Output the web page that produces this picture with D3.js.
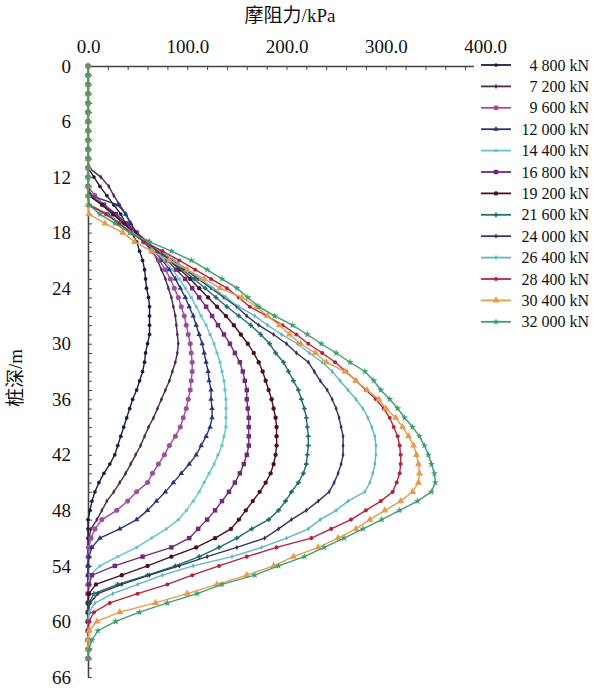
<!DOCTYPE html>
<html>
<head>
<meta charset="utf-8">
<script src="https://cdn.jsdelivr.net/npm/d3@7"></script>
<style>
  body { margin: 0; background: #fff; }
</style>
</head>
<body>
<div id="chart_friction"></div>
<script>
// depth of each measuring point, m
const depths = [0,1,2,3,4,5,6,7,8,9,10,11,12,13,14,15,16,17,18,19,20,21,22,23,24,25,26,27,28,29,30,31,32,
  33,34,35,36,37,38,39,40,41,42,43,44,45,46,47,48,49,50,51,52,53,54,55,56,57,58,59,60,61,62,63,64];

// side friction, kPa, one array per load step
const s4800  = [0,0,0,0,0,0,0,0,0,0,0,0,6,12,19,26,33,38,44,49,52,55,57,58,59,61,62,62,62,62,60,58,57,55,52,49,45,42,39,36,33,30,27,22,16,11,7,4,2,0,0,0,0,0,0,0,0,0,0,0,0,0,0,0,0];
const s7200  = [0,0,0,0,0,0,0,0,0,0,0,1,13,21,26,32,38,43,49,57,65,70,74,78,81,84,86,88,89,90,91,90,88,85,82,78,74,70,66,61,57,53,48,43,38,32,26,19,14,9,3,1,0,0,0,0,0,0,0,0,0,0,0,0,0];
const s9600  = [0,0,0,0,0,0,0,0,0,0,0,0,0,0,7,16,26,36,46,56,64,72,78,83,87,91,94,97,99,101,103,104,105,105,104,103,101,99,96,93,88,82,77,71,65,60,49,40,29,14,7,3,1,0,0,0,0,0,0,0,0,0,0,0,0];
const s12000 = [0,0,0,0,0,0,0,0,0,0,0,0,0,0,3,30,38,43,48,58,67,75,82,88,93,98,102,106,109,112,115,117,119,121,122,124,124,125,125,123,119,114,109,102,94,86,78,69,60,49,32,12,4,1,0,0,0,0,0,0,0,0,0,0,0];
const s14400 = [0,0,0,0,0,0,0,0,0,0,0,0,0,0,2,17,29,39,48,58,68,77,85,92,98,104,109,114,119,123,127,130,133,135,137,138,139,139,139,139,137,135,131,127,122,117,112,106,99,91,79,64,49,30,12,2,0,0,0,0,0,0,0,0,0];
const s16800 = [0,0,0,0,0,0,0,0,0,0,0,0,0,0,2,16,28,39,49,60,70,80,89,98,105,112,119,125,131,137,143,148,153,156,158,160,160,161,162,162,162,162,160,157,153,148,142,135,128,120,111,102,84,55,27,4,1,0,0,0,0,0,0,0,0];
const s19200 = [0,0,0,0,0,0,0,0,0,0,0,0,0,0,1,14,25,36,47,59,71,82,93,103,112,121,130,139,147,154,161,167,172,176,179,182,185,187,189,190,190,190,189,187,184,179,173,166,159,152,144,128,109,84,60,34,8,1,0,0,0,0,0,0,0];
const s21600 = [0,0,0,0,0,0,0,0,0,0,0,0,0,0,0,1,20,32,44,57,70,83,95,107,118,129,140,152,164,174,183,189,197,202,207,212,215,218,220,221,222,222,221,220,217,212,205,199,192,182,165,150,132,112,88,60,30,6,1,0,0,0,0,0,0];
const s24000 = [0,0,0,0,0,0,0,0,0,0,0,0,0,0,0,1,19,32,44,58,72,85,98,111,124,137,150,160,172,187,200,210,222,228,234,241,246,250,253,255,257,257,257,255,252,248,243,232,220,205,192,178,150,120,92,62,34,10,2,0,0,0,0,0,0];
const s26400 = [0,0,0,0,0,0,0,0,0,0,0,0,0,0,0,1,19,32,45,59,73,87,100,113,126,139,152,168,181,195,211,223,236,246,254,262,270,277,282,286,289,290,290,289,287,284,279,262,250,234,222,200,175,145,106,75,50,25,7,1,0,0,0,0,0];
const s28400 = [0,0,0,0,0,0,0,0,0,0,0,0,0,0,0,1,18,31,43,57,75,92,108,124,140,152,163,180,196,210,222,236,249,260,270,280,290,298,304,308,312,314,315,315,314,311,307,295,280,265,245,225,190,160,132,105,80,50,22,6,1,0,0,0,0];
const s30400 = [0,0,0,0,0,0,0,0,0,0,0,0,0,0,0,0,1,17,35,47,64,82,100,117,133,155,170,181,193,203,214,229,240,259,270,281,293,300,310,317,323,328,331,333,334,333,327,315,299,284,270,252,232,207,187,160,130,100,68,32,9,1,0,0,0];
const s32000 = [0,0,0,0,0,0,0,0,0,0,0,0,0,0,0,1,12,27,42,62,84,104,120,135,150,161,172,188,206,221,235,250,264,279,288,295,304,312,319,327,334,339,343,346,349,350,346,332,314,296,277,258,238,218,192,168,135,110,80,52,28,10,4,1,0];

const loads = ["4 800 kN", "7 200 kN", "9 600 kN", "12 000 kN", "14 400 kN", "16 800 kN", "19 200 kN",
  "21 600 kN", "24 000 kN", "26 400 kN", "28 400 kN", "30 400 kN", "32 000 kN"];
const seriesValues = [s4800, s7200, s9600, s12000, s14400, s16800, s19200, s21600, s24000, s26400, s28400, s30400, s32000];

const xTickLabels = [0, 100, 200, 300, 400];
const yTickLabels = [0, 6, 12, 18, 24, 30, 36, 42, 48, 54, 60, 66];

(function friction() {

  let width = 601,
    height = 690;

  const colors = ["#1b1f3f", "#4e2b52", "#a04c9e", "#29377a", "#66c4cb", "#72297a", "#4b0f1f",
    "#1e6c70", "#37335f", "#5cb7c0", "#b4253b", "#e59c4d", "#3f9e6d"];
  const shapes = [d3.symbolCircle, d3.symbolDiamond, d3.symbolCircle, d3.symbolTriangle, d3.symbolSquare,
    d3.symbolSquare, d3.symbolCircle, d3.symbolCross, d3.symbolDiamond, d3.symbolDiamond, d3.symbolCircle,
    d3.symbolTriangle, d3.symbolStar];
  const sizes = [11, 8, 20, 13, 9, 20, 15, 13, 8, 8, 13, 22, 16];

  const serif = "'Liberation Serif', 'Times New Roman', serif";
  const cjk = "'Liberation Serif', 'Noto Sans CJK SC', serif";

  const svg = d3.select("#chart_friction")
    .append("svg")
    .attr("width", width)
    .attr("height", height)
    .attr("viewBox", [0, 0, width, height]);

  let x = d3.scaleLinear()
    .domain([0, 400])
    .range([88, 485]);

  let y = d3.scaleLinear()
    .domain([0, 66])
    .range([66, 677]);

  // top axis: minor ticks every 20 kPa
  svg.append("g")
    .attr("transform", `translate(0,${y(0)})`)
    .call(d3.axisTop(x).tickValues(d3.range(0, 400, 20)).tickSizeInner(-4).tickSizeOuter(0).tickFormat(""))
    .call(g => g.selectAll("line").attr("stroke", "#444"))
    .call(g => g.select(".domain").attr("stroke", "#444").attr("stroke-width", 1.6));

  svg.append("g")
    .attr("transform", `translate(0,${y(0)})`)
    .call(d3.axisTop(x).tickValues(xTickLabels).tickSize(0).tickPadding(13).tickFormat(d3.format(".1f")))
    .call(g => g.select(".domain").remove())
    .call(g => g.selectAll("text").attr("font-family", serif).attr("font-size", 19).attr("fill", "#111"));

  // left axis: ticks every metre, labels every 6 m
  svg.append("g")
    .attr("transform", `translate(${x(0)},0)`)
    .call(d3.axisLeft(y).tickValues(depths.concat([65, 66])).tickSizeInner(-4).tickSizeOuter(0).tickPadding(17)
      .tickFormat(d => yTickLabels.includes(d) ? d : ""))
    .call(g => g.selectAll("line").attr("stroke", "#444"))
    .call(g => g.select(".domain").attr("stroke", "#444").attr("stroke-width", 1.6))
    .call(g => g.selectAll("text").attr("font-family", serif).attr("font-size", 19).attr("fill", "#111"));

  svg.append("text")
    .attr("text-anchor", "middle")
    .attr("x", 290)
    .attr("y", 22)
    .attr("font-family", cjk)
    .attr("font-size", 19)
    .attr("fill", "#111")
    .text("摩阻力/kPa");

  svg.append("text")
    .attr("text-anchor", "middle")
    .attr("transform", "translate(22,378) rotate(-90)")
    .attr("font-family", cjk)
    .attr("font-size", 19)
    .attr("fill", "#111")
    .text("桩深/m");

  let line = d3.line()
    .x(d => x(d[1]))
    .y(d => y(d[0]));

  seriesValues.forEach((vals, i) => {
    let pts = depths.map((d, k) => [d, vals[k]]);
    let g = svg.append("g");

    g.append("path")
      .datum(pts)
      .attr("fill", "none")
      .attr("stroke", colors[i])
      .attr("stroke-width", 1.4)
      .attr("d", line);

    g.selectAll("path.mark")
      .data(pts)
      .join("path")
      .attr("class", "mark")
      .attr("transform", d => `translate(${x(d[1])},${y(d[0])})`)
      .attr("d", d3.symbol().type(shapes[i]).size(sizes[i]))
      .attr("fill", colors[i]);
  });

  // legend
  let lg = svg.append("g");

  lg.append("rect")
    .attr("x", 474)
    .attr("y", 54)
    .attr("width", 127)
    .attr("height", 282)
    .attr("fill", "#fff");

  loads.forEach((name, i) => {
    let ly = 65 + i * 21.4;
    lg.append("line")
      .attr("x1", 481).attr("x2", 511)
      .attr("y1", ly).attr("y2", ly)
      .attr("stroke", colors[i])
      .attr("stroke-width", 1.8);
    lg.append("path")
      .attr("transform", `translate(496,${ly})`)
      .attr("d", d3.symbol().type(shapes[i]).size(sizes[i]))
      .attr("fill", colors[i]);
    lg.append("text")
      .attr("x", 589)
      .attr("y", ly)
      .attr("dy", "0.35em")
      .attr("text-anchor", "end")
      .attr("font-family", serif)
      .attr("font-size", 16)
      .attr("fill", "#111")
      .text(name);
  });

})();
</script>
</body>
</html>
